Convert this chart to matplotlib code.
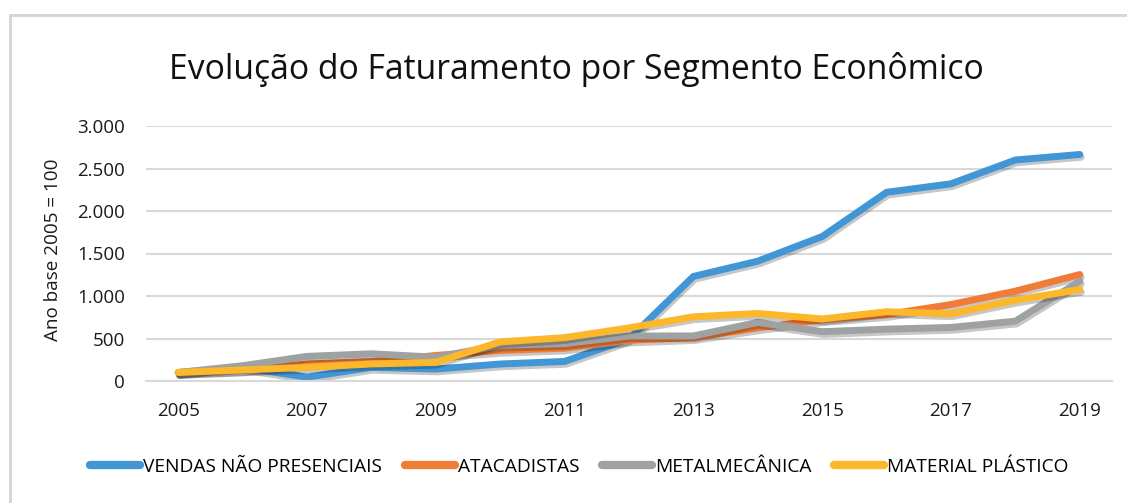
import matplotlib.pyplot as plt
import matplotlib.patheffects as pe
from matplotlib.lines import Line2D
from matplotlib.patches import Rectangle

anos = list(range(2005, 2020))

vendas_nao_presenciais = [100, 160, 45, 160, 140, 200, 230, 495, 1230, 1410, 1700, 2220, 2320, 2600, 2665]
atacadistas = [100, 130, 200, 230, 300, 360, 386, 480, 510, 625, 720, 782, 900, 1057, 1253]
metalmecanica = [100, 180, 290, 320, 280, 420, 440, 530, 530, 690, 580, 610, 630, 704, 1174]
material_plastico = [100, 130, 160, 200, 220, 460, 510, 625, 755, 795, 730, 815, 790, 951, 1076]

series = [
    ("VENDAS NÃO PRESENCIAIS", vendas_nao_presenciais, "#4197d6"),
    ("ATACADISTAS", atacadistas, "#f07c38"),
    ("METALMECÂNICA", metalmecanica, "#9fa2a2"),
    ("MATERIAL PLÁSTICO", material_plastico, "#fdb72a"),
]

plt.rcParams['font.family'] = ['Open Sans', 'DejaVu Sans']

fig = plt.figure(figsize=(11.27, 5.03), dpi=100)
fig.patches.append(Rectangle((10 / 1127, -0.05), 1.2, 1 - 15 / 503 + 0.05,
                             transform=fig.transFigure, fill=False,
                             edgecolor="#d4d4d4", linewidth=2))

ax = fig.add_axes([146 / 1127, 122 / 503, 966 / 1127, 255 / 503])

sombra = [pe.SimpleLineShadow(offset=(1, -2), shadow_color="black", alpha=0.22), pe.Normal()]
for nome, valores, cor in series:
    ax.plot(anos, valores, color=cor, linewidth=5, label=nome,
            solid_capstyle="round", solid_joinstyle="miter", path_effects=sombra)

ax.set_xlim(2004.5, 2019.5)
ax.set_ylim(0, 3000)
ax.set_yticks(range(0, 3001, 500))
ax.set_yticklabels(["0", "500", "1.000", "1.500", "2.000", "2.500", "3.000"])
ax.set_xticks(range(2005, 2020, 2))
ax.grid(axis="y", color="#d9d9d9", linewidth=1.5)
ax.set_axisbelow(True)
for lado in ["top", "right", "left"]:
    ax.spines[lado].set_visible(False)
ax.spines["bottom"].set_color("#d9d9d9")
ax.spines["bottom"].set_linewidth(1.5)
ax.tick_params(axis="both", length=0, labelsize=13.5, colors="#1a1a1a")
ax.tick_params(axis="y", pad=15)
ax.tick_params(axis="x", pad=15)

fig.text(53 / 1127, 1 - 250 / 503, "Ano base 2005 = 100", rotation=90,
         ha="center", va="center", fontsize=13.6, color="#1a1a1a")

fig.text(0.511, 0.862, "Evolução do Faturamento por Segmento Econômico",
         ha="center", va="center", fontsize=24.3, color="#111111")

alcas = [Line2D([], [], color=cor, linewidth=6, solid_capstyle="round")
         for _, _, cor in series]
fig.legend(alcas, [s[0] for s in series], loc="center", bbox_to_anchor=(0.514, 0.072),
           ncol=4, frameon=False, fontsize=13.8, handlelength=2.6,
           handletextpad=0.15, columnspacing=1.2)

fig.savefig("out.png", dpi=100)
